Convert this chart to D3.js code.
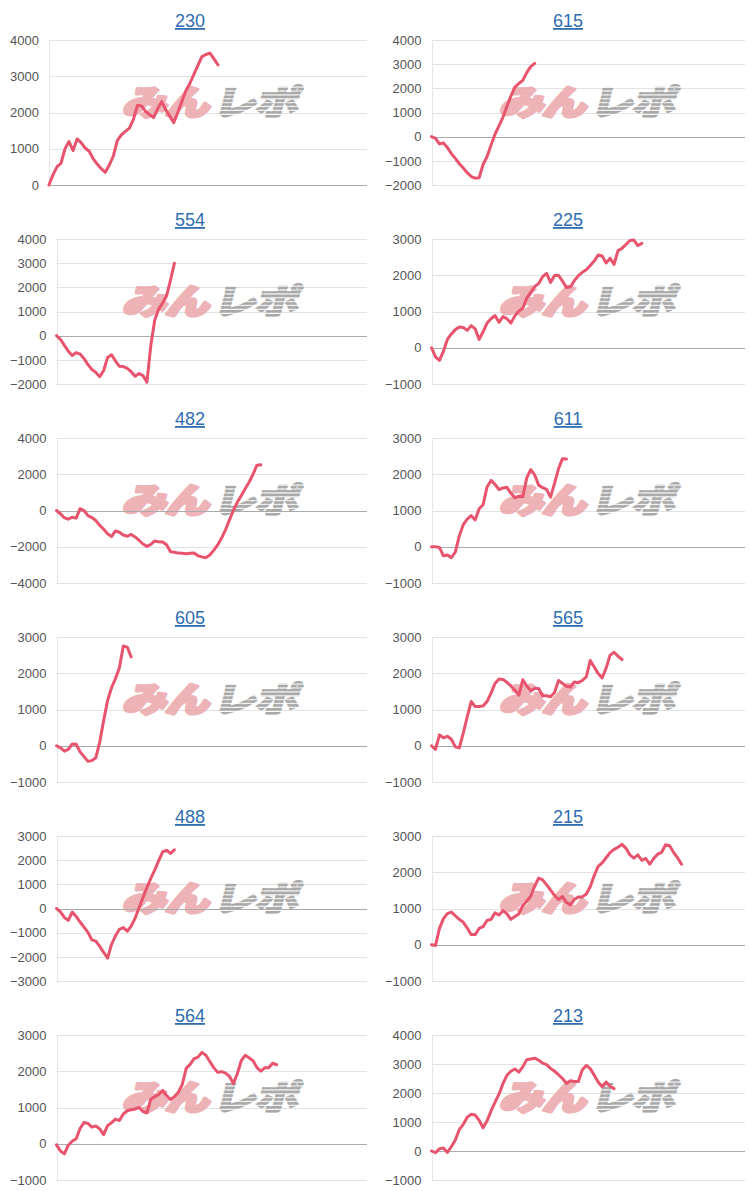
<!DOCTYPE html>
<html>
<head>
<meta charset="utf-8">
<script src="https://cdn.jsdelivr.net/npm/d3@7"></script>
<style>
  html, body { margin: 0; padding: 0; background: #fff; }
  svg { display: block; }
</style>
</head>
<body>
<svg id="chart" width="750" height="1191"></svg>
<script>
// ---------- data ----------
const titles = ["230", "615", "554", "225", "482", "611", "605", "565", "488", "215", "564", "213"];

const ticks230 = [0, 1000, 2000, 3000, 4000];
const ticks615 = [-2000, -1000, 0, 1000, 2000, 3000, 4000];
const ticks554 = [-2000, -1000, 0, 1000, 2000, 3000, 4000];
const ticks225 = [-1000, 0, 1000, 2000, 3000];
const ticks482 = [-4000, -2000, 0, 2000, 4000];
const ticks611 = [-1000, 0, 1000, 2000, 3000];
const ticks605 = [-1000, 0, 1000, 2000, 3000];
const ticks565 = [-1000, 0, 1000, 2000, 3000];
const ticks488 = [-3000, -2000, -1000, 0, 1000, 2000, 3000];
const ticks215 = [-1000, 0, 1000, 2000, 3000];
const ticks564 = [-1000, 0, 1000, 2000, 3000];
const ticks213 = [-1000, 0, 1000, 2000, 3000, 4000];

const s230 = [0, 280, 500, 600, 1000, 1200, 950, 1270, 1170, 1020, 930, 720, 580, 450, 350, 550, 800, 1230, 1380, 1480, 1570, 1820, 2200, 2180, 2030, 1940, 1860, 2100, 2300, 2080, 1900, 1720, 2000, 2300, 2600, 2800, 3050, 3300, 3540, 3600, 3640, 3480, 3310];
const s615 = [0, -70, -300, -260, -450, -700, -900, -1120, -1300, -1490, -1650, -1720, -1700, -1150, -820, -350, 100, 450, 800, 1250, 1680, 2050, 2200, 2330, 2650, 2900, 3030];
const s554 = [0, -150, -400, -640, -820, -700, -760, -950, -1200, -1400, -1520, -1700, -1440, -900, -790, -1050, -1270, -1280, -1350, -1490, -1680, -1570, -1650, -1930, -400, 650, 1100, 1350, 1650, 2300, 3000];
const s225 = [0, -250, -350, -100, 230, 380, 500, 570, 560, 480, 610, 520, 230, 440, 680, 800, 890, 700, 860, 800, 680, 880, 1010, 1090, 1370, 1530, 1690, 1770, 1960, 2050, 1800, 1990, 2000, 1840, 1660, 1680, 1850, 1990, 2080, 2150, 2270, 2390, 2560, 2530, 2340, 2470, 2300, 2680, 2740, 2850, 2960, 2970, 2820, 2880];
const s482 = [0, -180, -400, -480, -370, -420, 100, 0, -280, -390, -550, -820, -1030, -1280, -1440, -1130, -1200, -1350, -1420, -1320, -1460, -1640, -1850, -1980, -1870, -1680, -1730, -1740, -1890, -2270, -2300, -2350, -2360, -2380, -2360, -2350, -2500, -2560, -2600, -2450, -2200, -1900, -1520, -1070, -520, 0, 450, 820, 1200, 1560, 2000, 2500, 2520];
const s611 = [0, 0, -20, -250, -230, -300, -150, 300, 610, 760, 860, 740, 1050, 1160, 1650, 1830, 1720, 1580, 1620, 1640, 1480, 1350, 1390, 1380, 1900, 2130, 1980, 1700, 1630, 1580, 1370, 1750, 2150, 2430, 2420];
const s605 = [0, -60, -150, -100, 50, 40, -170, -300, -430, -410, -330, 100, 700, 1250, 1600, 1850, 2150, 2750, 2720, 2450];
const s565 = [0, -100, 300, 220, 260, 180, -30, -60, 350, 800, 1220, 1080, 1080, 1100, 1220, 1450, 1720, 1840, 1830, 1750, 1650, 1530, 1400, 1820, 1650, 1520, 1580, 1580, 1380, 1380, 1350, 1470, 1800, 1720, 1640, 1620, 1760, 1740, 1800, 1900, 2350, 2170, 1990, 1870, 2140, 2500, 2580, 2470, 2380];
const s488 = [0, -140, -370, -490, -150, -330, -560, -770, -990, -1300, -1350, -1570, -1820, -2050, -1480, -1130, -860, -790, -940, -730, -400, 30, 450, 870, 1250, 1600, 1980, 2340, 2410, 2280, 2430];
const s215 = [0, -20, 450, 720, 860, 900, 800, 700, 620, 460, 280, 280, 450, 500, 670, 700, 880, 820, 940, 850, 700, 780, 850, 1080, 1200, 1340, 1620, 1840, 1790, 1650, 1510, 1360, 1250, 1330, 1170, 1100, 1250, 1320, 1320, 1400, 1600, 1910, 2160, 2260, 2400, 2540, 2630, 2690, 2770, 2660, 2480, 2390, 2480, 2330, 2380, 2220, 2380, 2500, 2550, 2760, 2730, 2550, 2400, 2220];
const s564 = [-30, -200, -280, -40, 70, 140, 420, 590, 560, 460, 490, 410, 250, 500, 580, 680, 640, 820, 910, 940, 960, 1000, 890, 850, 1230, 1300, 1360, 1470, 1330, 1220, 1300, 1420, 1640, 2080, 2190, 2350, 2390, 2520, 2440, 2270, 2100, 1970, 1990, 1950, 1860, 1660, 1930, 2290, 2440, 2370, 2290, 2100, 2000, 2100, 2100, 2220, 2180];
const s213 = [0, -60, 80, 100, -50, 150, 380, 740, 920, 1160, 1270, 1240, 1060, 800, 1040, 1380, 1680, 1960, 2320, 2610, 2750, 2830, 2720, 2900, 3150, 3170, 3200, 3130, 3030, 2980, 2850, 2750, 2630, 2500, 2330, 2420, 2400, 2400, 2800, 2950, 2840, 2610, 2380, 2210, 2380, 2230, 2150];

const seriesList = [s230, s615, s554, s225, s482, s611, s605, s565, s488, s215, s564, s213];
const tickList = [ticks230, ticks615, ticks554, ticks225, ticks482, ticks611, ticks605, ticks565, ticks488, ticks215, ticks564, ticks213];
const slotCount = 79; // x-axis slots per chart (only the first ones carry data)

// ---------- drawing ----------
const svg = d3.select("#chart");
const defs = svg.append("defs");
const pat = defs.append("pattern")
  .attr("id", "stripes")
  .attr("patternUnits", "userSpaceOnUse")
  .attr("width", 8).attr("height", 5);
pat.append("rect").attr("x", 0).attr("y", 0).attr("width", 8).attr("height", 3.4).attr("fill", "#a9a9a9");

const measure = svg.append("text")
  .attr("font-family", "Arial, 'Liberation Sans', sans-serif")
  .attr("font-size", 13)
  .attr("visibility", "hidden");
function textW(s) { measure.text(s); return measure.node().getComputedTextLength(); }

const fmt = d3.format("d");

titles.forEach((title, i) => {
  const col = i % 2, row = Math.floor(i / 2);
  const colX = col === 0 ? 0 : 375;
  const data = seriesList[i];
  const tks = tickList[i];

  const maxW = d3.max(tks, t => textW(fmt(t)));
  const labelRight = colX + 10 + maxW;
  const plotLeft = labelRight + 10;
  const plotRight = col === 0 ? 367 : 745;
  const plotTop = 40 + 199 * row;
  const plotBottom = plotTop + 145;

  const x = d3.scaleLinear().domain([0, slotCount]).range([plotLeft, plotRight]);
  const y = d3.scaleLinear().domain(d3.extent(tks)).range([plotBottom, plotTop]);

  const g = svg.append("g");

  // gridlines
  g.selectAll("line.grid").data(tks.filter(t => t !== 0)).join("line")
    .attr("x1", plotLeft).attr("x2", plotRight)
    .attr("y1", d => Math.round(y(d)) + 0.5).attr("y2", d => Math.round(y(d)) + 0.5)
    .attr("stroke", "#e3e3e3").attr("stroke-width", 1);

  // vertical baseline
  g.append("line")
    .attr("x1", Math.round(plotLeft) + 0.5).attr("x2", Math.round(plotLeft) + 0.5)
    .attr("y1", plotTop).attr("y2", plotBottom)
    .attr("stroke", "#e6e6e6");

  // y axis labels via d3 axis
  const axis = d3.axisLeft(y).tickValues(tks).tickFormat(fmt).tickSize(0).tickPadding(0);
  const ag = g.append("g").attr("transform", `translate(${labelRight},0)`).call(axis);
  ag.select(".domain").remove();
  ag.selectAll("text")
    .attr("font-family", "Arial, 'Liberation Sans', sans-serif")
    .attr("font-size", 13)
    .attr("fill", "#555");

  // watermark
  const wmX = colX + 122 + (col === 1 ? 2 : 0);
  const wmBase = plotTop + 75;
  const wm = g.append("g")
    .attr("transform", `translate(${wmX},${wmBase}) skewX(-14) scale(1,0.78)`)
    .attr("font-family", "'Noto Sans CJK JP', sans-serif")
    .attr("font-weight", 900)
    .attr("font-size", 44);
  wm.append("text").attr("x", 0).attr("y", 0)
    .attr("fill", "#eaa6ab").attr("stroke", "#eaa6ab").attr("stroke-width", 4)
    .attr("stroke-linejoin", "round").attr("opacity", 0.85)
    .attr("letter-spacing", -1).text("みん");
  wm.append("text").attr("x", 90).attr("y", 0)
    .attr("fill", "url(#stripes)").attr("stroke", "url(#stripes)").attr("stroke-width", 2.5)
    .attr("stroke-linejoin", "round")
    .attr("letter-spacing", -2).text("レポ");

  // zero baseline
  g.append("line")
    .attr("x1", plotLeft).attr("x2", plotRight)
    .attr("y1", Math.round(y(0)) + 0.5).attr("y2", Math.round(y(0)) + 0.5)
    .attr("stroke", "#ababab").attr("stroke-width", 1);

  // series line
  const line = d3.line().x((d, k) => x(k)).y(d => y(d));
  g.append("path")
    .datum(data)
    .attr("d", line)
    .attr("fill", "none")
    .attr("stroke", "#e8546e")
    .attr("stroke-width", 3)
    .attr("stroke-linejoin", "round")
    .attr("stroke-linecap", "round");

  // title
  g.append("text")
    .attr("x", col === 0 ? 190 : 568)
    .attr("y", plotTop - 13)
    .attr("text-anchor", "middle")
    .attr("font-family", "Arial, 'Liberation Sans', sans-serif")
    .attr("font-size", 18)
    .attr("fill", "#2e6db0")
    .attr("text-decoration", "underline")
    .text(title);
});
measure.remove();
</script>
</body>
</html>
